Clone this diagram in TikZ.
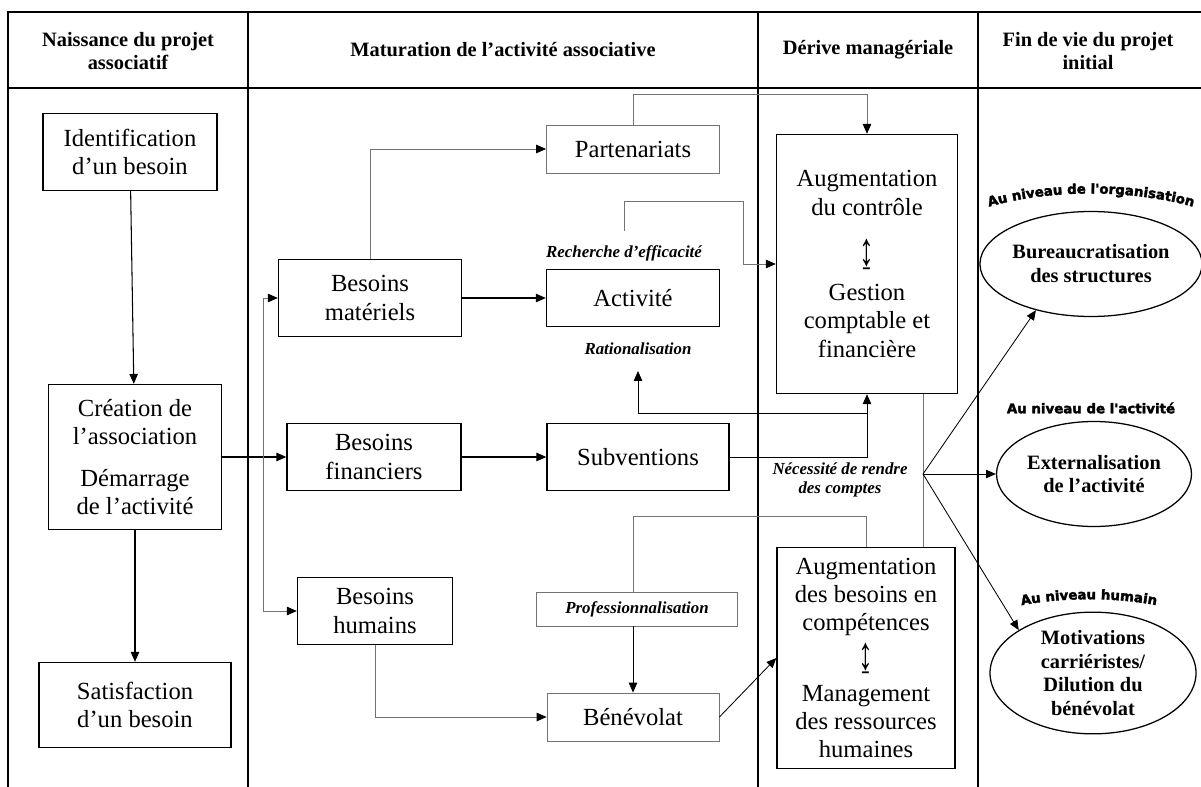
\documentclass[tikz,border=0pt]{standalone}
\usepackage{fontspec}
\setmainfont{Liberation Serif}
\newfontfamily\heavyfont{DejaVu Sans}[FakeBold=2.5]
\usetikzlibrary{arrows.meta, shapes.geometric, decorations.text}
\newlength{\pu}
\setlength{\pu}{0.025cm}
\newcommand{\updown}{\scalebox{1.2}[1.9]{↨}}

\begin{document}
\begin{tikzpicture}[x=0.025cm, y=-0.025cm,
    frame/.style={line width=1.4pt},
    box/.style={draw, line width=1pt, align=center, inner sep=1pt, font=\fontsize{17.5}{20}\selectfont},
    softbox/.style={box, draw=black!55, line width=0.6pt},
    outcome/.style={ellipse, draw, line width=0.9pt, align=center, inner sep=0pt, font=\fontsize{14.5}{17}\selectfont\bfseries},
    head/.style={align=center, font=\fontsize{14.5}{16.5}\selectfont\bfseries},
    tag/.style={align=center, inner sep=1pt, font=\fontsize{12}{14}\selectfont\bfseries\itshape},
    link/.style={line width=0.75pt, -{Triangle[length=7pt, width=6pt]}},
    softlink/.style={line width=0.6pt, draw=black!55, -{Triangle[length=7pt, width=6pt, color=black]}},
    softline/.style={line width=0.6pt, draw=black!55},
    arch/.style={decoration={text along path, text align=center, text={#1}}, decorate},
  ]
    \useasboundingbox (0,0) rectangle (1201,787);

    % Table
    \draw[frame] (8,787) -- (8,12) -- (1201,12);
    \draw[frame] (8,88) -- (1201,88);
    \foreach \x in {248, 758, 978}
        \draw[frame] (\x,12) -- (\x,787);

    % Headers
    \node[head] (h1) at (128,51) {Naissance du projet\\associatif};
    \node[head] (h2) at (503,50) {Maturation de l’activité associative};
    \node[head] (h3) at (868,50) {Dérive managériale};
    \node[head] (h4) at (1088,51) {Fin de vie du projet\\initial};

    % Naissance
    \node[box, minimum width=174\pu, minimum height=77\pu] (ident) at (130,152) {Identification\\d’un besoin};
    \node[box, minimum width=173\pu, minimum height=145\pu] (creation) at (135,457) {Création de\\l’association\\[10pt]Démarrage\\de l’activité};
    \node[box, minimum width=192\pu, minimum height=85\pu] (satis) at (135,705) {Satisfaction\\d’un besoin};

    % Maturation
    \node[box, minimum width=183\pu, minimum height=77\pu] (mat) at (370,298) {Besoins\\matériels};
    \node[box, minimum width=174\pu, minimum height=67\pu] (fin) at (374,457) {Besoins\\financiers};
    \node[box, minimum width=155\pu, minimum height=67\pu] (hum) at (375,611) {Besoins\\humains};
    \node[softbox, minimum width=173\pu, minimum height=48\pu] (part) at (633,149) {Partenariats};
    \node[box, minimum width=173\pu, minimum height=57\pu] (activ) at (633,298) {Activité};
    \node[box, minimum width=182\pu, minimum height=67\pu] (subv) at (638,457) {Subventions};
    \node[softbox, minimum width=172\pu, minimum height=48\pu] (bene) at (633,717) {Bénévolat};
    \node[softbox, tag, minimum width=201\pu, minimum height=34\pu] (prof) at (637,609) {Professionnalisation};
    \node[tag] (recherche) at (624,253) {Recherche d’efficacité};
    \node[tag] (ratio) at (638,349) {Rationalisation};

    % Derive
    \node[box, minimum width=181\pu, minimum height=259\pu] (ctrl) at (867,264) {Augmentation\\du contrôle\\[16pt]\updown\\[5pt]Gestion\\comptable et\\financière};
    \node[box, minimum width=178\pu, minimum height=221\pu] (comp) at (866,658) {Augmentation\\des besoins en\\compétences\\[4pt]\updown\\[3pt]Management\\des ressources\\humaines};
    \node[tag] (necess) at (840,480) {Nécessité de rendre\\des comptes};

    % Fin de vie
    \node[outcome, minimum width=202\pu, minimum height=105\pu] (bur) at (1091,264) {Bureaucratisation\\des structures};
    \node[outcome, minimum width=195\pu, minimum height=105\pu] (ext) at (1094,474) {Externalisation\\de l’activité};
    \node[outcome, minimum width=206\pu, minimum height=117\pu] (mot) at (1093,673) {Motivations\\carriéristes/\\Dilution du\\bénévolat};
    \path[arch={|\heavyfont\bfseries\fontsize{9.5}{10}\selectfont|Au niveau de l'organisation}]
        (978,210) .. controls (1045,188) and (1135,188) .. (1204,210);
    \node[font=\heavyfont\bfseries\fontsize{9.5}{10}\selectfont] (lvact) at (1091,408) {Au niveau de l'activité};
    \path[arch={|\heavyfont\bfseries\fontsize{9.5}{10}\selectfont|Au niveau humain}]
        (1018,606) .. controls (1060,597) and (1118,597) .. (1160,606);

    % Points
    \coordinate (split) at (263,457);
    \coordinate (effort) at (624,231);
    \coordinate (elbow) at (743,201);
    \coordinate (ratiofork) at (867,413);
    \coordinate (ratiotip) at (638,371);
    \coordinate (hub) at (923,474);

    % Arrows
    \draw[link] (ident) -- (creation);
    \draw[link] (creation) -- (satis);
    \draw[link] (creation.east) -- (fin.west);
    \draw[softlink] (split) |- (mat.west);
    \draw[softlink] (split) |- (hum.west);
    \draw[softlink] (mat.north) |- (part.west);
    \draw[link] (mat.east) -- (activ.west);
    \draw[link] (fin.east) -- (subv.west);
    \draw[softlink] (hum.south) |- (bene.west);
    \draw[softlink] (part.north) -- ++(0,-30) -| (ctrl.north);
    \draw[softlink] (effort) |- (elbow) |- (ctrl.west);
    \draw[link, line width=0.6pt] (subv.east) -| (ctrl.south);
    \draw[link, line width=0.6pt] (ratiofork) -| (ratiotip);
    \draw[softline] (comp.north) -- ++(0,-30) -| (prof.north -| bene.north);
    \draw[link, line width=0.6pt] (prof.south -| bene.north) -- (bene.north);
    \draw[link, line width=0.6pt] (bene.east) -- (comp.west);
    \draw[softline] (ctrl.south -| hub) -- (comp.north -| hub);
    \draw[link, line width=0.6pt] (hub) -- (bur.220);
    \draw[link, line width=0.6pt] (hub) -- (ext.west);
    \draw[link, line width=0.6pt] (hub) -- (mot.150);
\end{tikzpicture}
\end{document}
